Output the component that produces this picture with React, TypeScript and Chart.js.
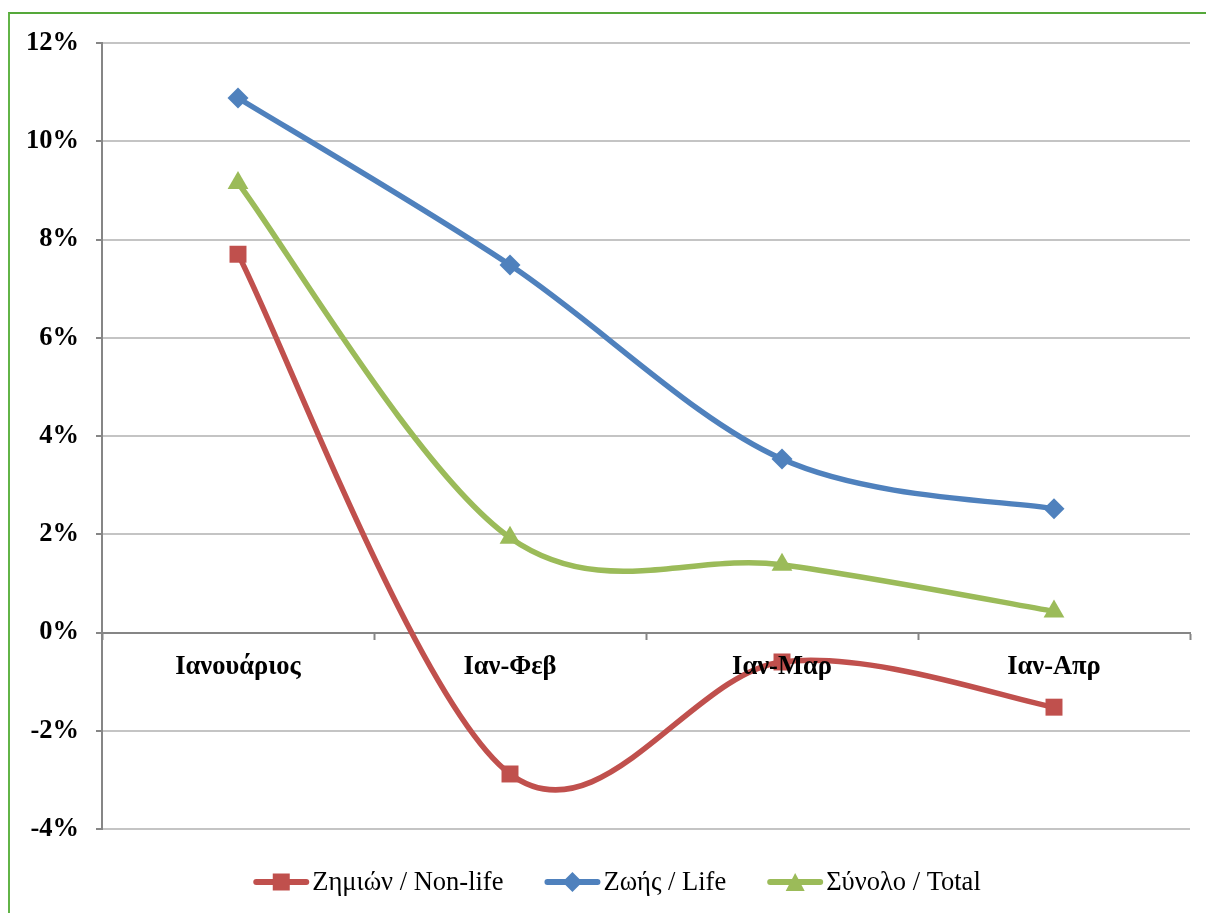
import React, { useEffect, useRef } from "react";
import { Chart, registerables } from "chart.js";

Chart.register(...registerables);

const categories = ["Ιανουάριος", "Ιαν-Φεβ", "Ιαν-Μαρ", "Ιαν-Απρ"];
const seriesNames = ["Ζημιών / Non-life", "Ζωής / Life", "Σύνολο / Total"];
const nonLife = [7.7, -2.88, -0.6, -1.52];
const life = [10.88, 7.48, 3.53, 2.52];
const total = [9.15, 1.93, 1.38, 0.43];
const yMin = -4;
const yMax = 12;
const yStep = 2;

const RED = "#C0504D";
const BLUE = "#4F81BD";
const GREEN = "#9BBB59";
const AXIS = "#868686";
const GRID = "#c4c4c4";
const FONT = "'Liberation Serif', 'Times New Roman', serif";
const markers = ["rect", "diamond", "triangle"];

function drawLegendSymbol(g: CanvasRenderingContext2D, x: number, y: number, color: string, marker: string) {
  g.save();
  g.strokeStyle = color;
  g.lineWidth = 6;
  g.lineCap = "round";
  g.beginPath();
  g.moveTo(x + 3, y);
  g.lineTo(x + 53, y);
  g.stroke();
  g.fillStyle = color;
  g.beginPath();
  const cx = x + 28;
  if (marker === "rect") {
    g.rect(cx - 8.5, y - 8.5, 17, 17);
  } else if (marker === "diamond") {
    g.moveTo(cx, y - 10);
    g.lineTo(cx + 10, y);
    g.lineTo(cx, y + 10);
    g.lineTo(cx - 10, y);
    g.closePath();
  } else {
    g.moveTo(cx, y - 9);
    g.lineTo(cx + 9.5, y + 9);
    g.lineTo(cx - 9.5, y + 9);
    g.closePath();
  }
  g.fill();
  g.restore();
}

// Excel-like smoothing: Catmull-Rom style bezier control points
const smoothPlugin = {
  id: "excelSmooth",
  beforeDatasetsDraw(chart: any) {
    chart.data.datasets.forEach((_: any, di: number) => {
      const meta = chart.getDatasetMeta(di);
      const line = meta.dataset;
      const pts = meta.data;
      if (!line || !pts || pts.length < 2) return;
      if (typeof line.updateControlPoints === "function") {
        line.updateControlPoints(chart.chartArea, "x");
      }
      const n = pts.length;
      for (let i = 0; i < n; i++) {
        const p = pts[i];
        const prev = pts[Math.max(0, i - 1)];
        const next = pts[Math.min(n - 1, i + 1)];
        const dx = (next.x - prev.x) / 6;
        const dy = (next.y - prev.y) / 6;
        p.cp1x = p.x - dx;
        p.cp1y = p.y - dy;
        p.cp2x = p.x + dx;
        p.cp2y = p.y + dy;
      }
      line._path = undefined;
    });
  },
};

const legendPlugin = {
  id: "lineMarkerLegend",
  afterDraw(chart: any) {
    const g: CanvasRenderingContext2D = chart.ctx;
    const datasets = chart.data.datasets;
    g.save();
    g.font = `26.5px ${FONT}`;
    const symW = 56;
    const textGap = 3;
    const itemGap = 41;
    const widths = datasets.map((ds: any) => symW + textGap + g.measureText(ds.label).width);
    const totalW = widths.reduce((a: number, b: number) => a + b, 0) + itemGap * (datasets.length - 1);
    const centerX = 617;
    const y = 882;
    let x = centerX - totalW / 2;
    datasets.forEach((ds: any, i: number) => {
      drawLegendSymbol(g, x, y, ds.borderColor, markers[i]);
      g.fillStyle = "#000";
      g.textAlign = "left";
      g.textBaseline = "middle";
      g.fillText(ds.label, x + symW + textGap, y + 1);
      x += widths[i] + itemGap;
    });
    g.restore();
  },
};

export default function App() {
  const ref = useRef<HTMLCanvasElement | null>(null);

  useEffect(() => {
    if (!ref.current) return;
    const chart = new Chart(ref.current, {
      type: "line",
      data: {
        labels: categories,
        datasets: [
          {
            label: seriesNames[0],
            data: nonLife,
            borderColor: RED,
            backgroundColor: RED,
            pointStyle: "rect",
            pointRadius: 12,
          },
          {
            label: seriesNames[1],
            data: life,
            borderColor: BLUE,
            backgroundColor: BLUE,
            pointStyle: "rectRot",
            pointRadius: 10.5,
          },
          {
            label: seriesNames[2],
            data: total,
            borderColor: GREEN,
            backgroundColor: GREEN,
            pointStyle: "triangle",
            pointRadius: 12,
          },
        ],
      },
      plugins: [smoothPlugin, legendPlugin],
      options: {
        responsive: false,
        animation: false,
        layout: { padding: { left: 0, right: 16, top: 43, bottom: 84 } },
        elements: {
          line: { borderWidth: 5.5, tension: 0.4 },
          point: { borderWidth: 0, hoverRadius: 12 },
        },
        scales: {
          x: {
            type: "category",
            axis: "x",
            position: { y: 0 } as any,
            offset: true,
            grid: {
              offset: true,
              drawOnChartArea: false,
              drawTicks: true,
              tickLength: 6,
              tickColor: AXIS,
              tickWidth: 2,
            },
            border: { display: true, color: AXIS, width: 2 },
            ticks: {
              z: 1,
              font: { family: FONT, size: 26.5, weight: "bold" },
              color: "#000",
              padding: 13,
              maxRotation: 0,
              autoSkip: false,
            },
          },
          y: {
            type: "linear",
            position: "left",
            min: yMin,
            max: yMax,
            grid: {
              color: GRID,
              lineWidth: 2,
              drawTicks: true,
              tickLength: 6,
              tickColor: AXIS,
              tickWidth: 2,
            },
            border: { display: true, color: AXIS, width: 2 },
            ticks: {
              stepSize: yStep,
              font: { family: FONT, size: 26.5, weight: "bold" },
              color: "#000",
              padding: 17,
              callback: (v: any) => `${v}%`,
            },
            afterFit: (s: any) => {
              s.width = 102;
            },
          },
        },
        plugins: {
          tooltip: { enabled: false },
          legend: { display: false },
        },
      },
    });
    return () => chart.destroy();
  }, []);

  return (
    <div
      style={{
        position: "absolute",
        left: 0,
        top: 0,
        width: 1206,
        height: 913,
        background: "#fff",
        overflow: "hidden",
      }}
    >
      <div
        style={{
          position: "absolute",
          left: 8,
          top: 12,
          width: 1198,
          height: 901,
          borderLeft: "2px solid #62b447",
          borderTop: "2px solid #55a83a",
        }}
      />
      <canvas
        ref={ref}
        width={1206}
        height={913}
        style={{ position: "absolute", left: 0, top: 0 }}
      />
    </div>
  );
}
